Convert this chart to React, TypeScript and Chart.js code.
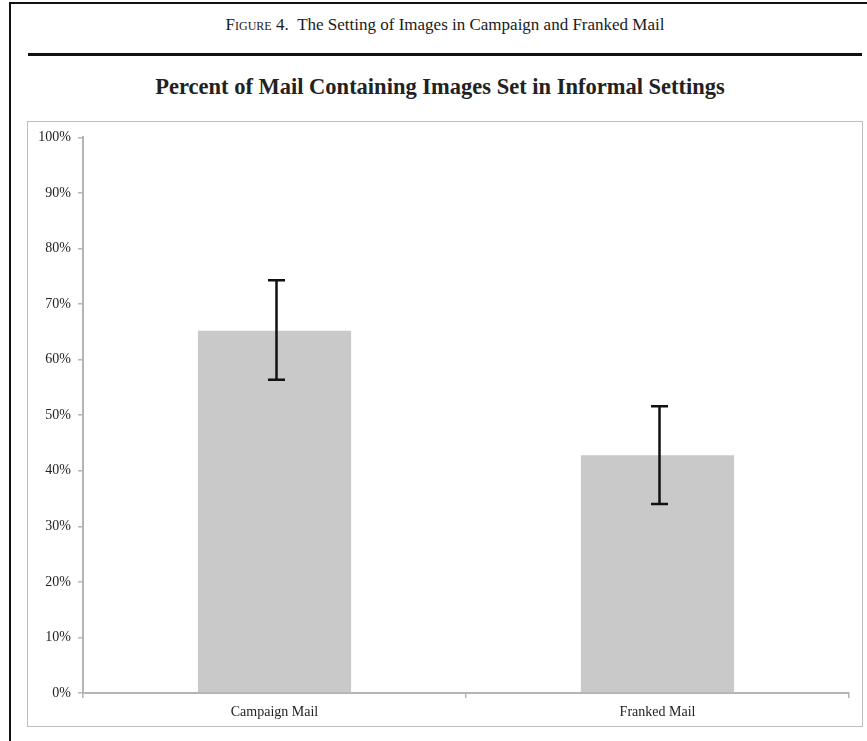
import React, { useEffect, useRef } from "react";
import { Chart, registerables } from "chart.js";

Chart.register(...registerables);

// Chart values
const categories = ["Campaign Mail", "Franked Mail"];
const percentInformal = [65.2, 42.8];
const errorLow = [56.4, 34.0];
const errorHigh = [74.3, 51.6];
const yTicks = [0, 10, 20, 30, 40, 50, 60, 70, 80, 90, 100];

const serif = "'Liberation Serif', 'Times New Roman', serif";

// Draws vertical error bars with caps from errorLow/errorHigh
const errorBarPlugin = {
  id: "errorBars",
  afterDatasetsDraw(chart: any) {
    const { ctx, scales } = chart;
    const x = scales.x;
    const y = scales.y;
    ctx.save();
    ctx.strokeStyle = "#111";
    ctx.lineWidth = 2.5;
    ctx.lineCap = "butt";
    categories.forEach((_, i) => {
      const cx = x.getPixelForValue(i) + 2;
      const top = y.getPixelForValue(errorHigh[i]);
      const bot = y.getPixelForValue(errorLow[i]);
      const cap = 8.5;
      ctx.beginPath();
      ctx.moveTo(cx, top);
      ctx.lineTo(cx, bot);
      ctx.moveTo(cx - cap, top);
      ctx.lineTo(cx + cap, top);
      ctx.moveTo(cx - cap, bot);
      ctx.lineTo(cx + cap, bot);
      ctx.stroke();
    });
    ctx.restore();
  },
};

function BarChart() {
  const ref = useRef<HTMLCanvasElement | null>(null);
  useEffect(() => {
    if (!ref.current) return;
    const chart = new Chart(ref.current, {
      type: "bar",
      data: {
        labels: categories,
        datasets: [
          {
            data: percentInformal,
            backgroundColor: "#c9c9c9",
            borderWidth: 0,
            barPercentage: 1,
            categoryPercentage: 0.4,
          },
        ],
      },
      options: {
        responsive: false,
        animation: false,
        layout: { padding: { top: 13, right: 13, left: 0, bottom: 0 } },
        plugins: {
          legend: { display: false },
          tooltip: { enabled: false },
        },
        scales: {
          x: {
            offset: true,
            grid: {
              offset: true,
              drawOnChartArea: false,
              drawTicks: true,
              tickLength: 5,
              color: "#b4b4b4",
              lineWidth: 1.5,
            },
            border: { display: true, color: "#b4b4b4", width: 2 },
            ticks: {
              color: "#222",
              padding: 6,
              font: { family: serif, size: 14 },
            },
            afterFit(scale: any) {
              scale.height = 33;
            },
          },
          y: {
            min: 0,
            max: 100,
            afterBuildTicks(scale: any) {
              scale.ticks = yTicks.map((v) => ({ value: v }));
            },
            grid: {
              drawOnChartArea: false,
              drawTicks: true,
              tickLength: 5,
              color: "#b4b4b4",
              lineWidth: 1.5,
            },
            border: { display: true, color: "#b4b4b4", width: 2 },
            ticks: {
              color: "#222",
              padding: 7,
              font: { family: serif, size: 14 },
              callback: (v: any) => `${v}%`,
            },
            afterFit(scale: any) {
              scale.width = 55;
            },
          },
        },
      },
      plugins: [errorBarPlugin],
    });
    return () => chart.destroy();
  }, []);
  return <canvas ref={ref} width={834} height={604} style={{ display: "block" }} />;
}

export default function App() {
  return (
    <div
      style={{
        position: "absolute",
        left: 0,
        top: 0,
        width: 867,
        height: 741,
        overflow: "hidden",
        background: "#fff",
        fontFamily: serif,
      }}
    >
      {/* figure frame */}
      <div
        style={{
          position: "absolute",
          left: 9,
          top: 2,
          width: 900,
          height: 800,
          borderLeft: "2px solid #111",
          borderTop: "2px solid #111",
        }}
      />
      <div
        style={{
          position: "absolute",
          left: 0,
          width: 890,
          top: 13,
          textAlign: "center",
          fontSize: 17,
          color: "#1a1a1a",
          lineHeight: "24px",
        }}
      >
        <span style={{ fontVariant: "small-caps" }}>Figure</span>
        {" 4.\u00a0\u00a0The Setting of Images in Campaign and Franked Mail"}
      </div>
      <div
        style={{
          position: "absolute",
          left: 28,
          top: 53,
          width: 834,
          height: 3,
          background: "#111",
        }}
      />
      <div
        style={{
          position: "absolute",
          left: 20,
          width: 840,
          top: 73,
          textAlign: "center",
          fontSize: 22.5,
          fontWeight: "bold",
          color: "#222",
          lineHeight: "28px",
        }}
      >
        Percent of Mail Containing Images Set in Informal Settings
      </div>
      {/* chart panel */}
      <div
        style={{
          position: "absolute",
          left: 27,
          top: 121,
          width: 834,
          height: 604,
          border: "1.5px solid #bdbdbd",
        }}
      />
      <div style={{ position: "absolute", left: 28, top: 122 }}>
        <BarChart />
      </div>
    </div>
  );
}
